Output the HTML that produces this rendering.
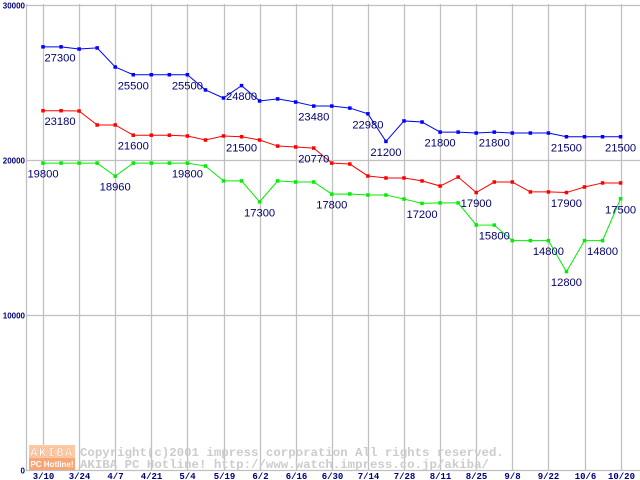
<!DOCTYPE html>
<html><head><meta charset="utf-8"><style>
body{margin:0;background:#fff}
svg{display:block}
</style></head><body>
<svg id="chart" width="640" height="480" xmlns="http://www.w3.org/2000/svg" font-family="Liberation Sans, sans-serif">
<g id="grid"></g>
<g id="wm">
  <rect x="29" y="445" width="46" height="13" fill="#fcc9a4"/>
  <rect x="29" y="458" width="46" height="12" fill="#f9a676"/>
  <text x="52" y="456" text-anchor="middle" font-family="Liberation Mono, monospace" font-weight="bold" font-size="12" fill="#fff" letter-spacing="1.5" stroke="#f7a070" stroke-width="0.4">AKIBA</text>
  <text x="52" y="467" text-anchor="middle" font-family="Liberation Sans, sans-serif" font-weight="bold" font-size="8" fill="#fff">PC Hotline!</text>
  <text x="80" y="456" font-family="Liberation Mono, monospace" font-weight="bold" font-size="12.4" fill="#cccccc">Copyright(c)2001 impress corporation All rights reserved.</text>
  <text x="80" y="468" font-family="Liberation Mono, monospace" font-weight="bold" font-size="12.4" fill="#cccccc">AKIBA PC Hotline!  http://www.watch.impress.co.jp/akiba/</text>
</g>
<g id="axes"></g>
<g id="series"></g>
<g id="labels"></g>
</svg>
<script>
const xTickLabels = ["3/10","3/24","4/7","4/21","5/4","5/19","6/2","6/16","6/30","7/14","7/28","8/11","8/25","9/8","9/22","10/6","10/20"];
const yTickValues = [0,10000,20000,30000];
const seriesColors = ["#0000ff","#ff0000","#00ee00"];
const blueValues = [27300,27300,27160,27230,26000,25500,25500,25500,25500,24520,24000,24800,23810,23940,23740,23480,23480,23350,22980,21200,22520,22450,21800,21800,21740,21800,21740,21740,21740,21500,21500,21500,21500];
const redValues = [23180,23180,23160,22260,22260,21600,21600,21600,21550,21290,21550,21500,21290,20900,20840,20770,19800,19740,18970,18840,18840,18650,18320,18900,17900,18580,18580,17940,17940,17900,18260,18520,18520];
const greenValues = [19800,19800,19800,19800,18960,19800,19800,19800,19800,19610,18650,18650,17300,18650,18580,18580,17800,17810,17740,17740,17480,17200,17230,17230,15810,15800,14800,14800,14800,12800,14800,14800,17500];
// [series, pointIndex, dx]
const labelPoints = [[0,0,17],[0,5,0],[0,8,0],[0,11,0],[0,15,0],[0,18,0],[0,19,0],[0,22,0],[0,25,0],[0,29,0],[0,32,0],
 [1,0,17],[1,5,0],[1,11,0],[1,15,0],[1,24,0],[1,29,0],
 [2,0,0],[2,4,0],[2,8,0],[2,12,0],[2,16,0],[2,21,0],[2,25,0],[2,28,0],[2,29,0],[2,31,0],[2,32,0]];

const NS="http://www.w3.org/2000/svg";
const X0=43, STEP=18.05, Y0=470, YS=155/10000;
const xAt=i=>X0+STEP*i;
const yAt=v=>Y0-v*YS;
function mk(tag,attrs,parent){const e=document.createElementNS(NS,tag);for(const k in attrs)e.setAttribute(k,attrs[k]);parent.appendChild(e);return e;}
const grid=document.getElementById('grid'),axes=document.getElementById('axes'),ser=document.getElementById('series'),lab=document.getElementById('labels');
xTickLabels.forEach((t,k)=>{
  const x=Math.round(xAt(k*2))+0.5;
  const l=mk('line',{x1:x,y1:4,x2:x,y2:470,stroke:'#c0c0c0','stroke-width':1.3},grid);
  
  
  const tx=mk('text',{x:x,y:479,'text-anchor':'middle','font-size':9,'font-family':'Liberation Mono, monospace','font-weight':'bold',fill:'#000080'},axes);
  tx.textContent=t;
  
  
});
yTickValues.forEach(v=>{
  const y=Math.round(yAt(v))+0.5;
  const l=mk('line',{x1:26,y1:y,x2:640,y2:y,stroke:'#c0c0c0','stroke-width':1.3},grid);
  
  
  const tx=mk('text',{x:25,y:y+3,'text-anchor':'end','font-size':8,'font-weight':'bold',fill:'#000080'},axes);
  tx.textContent=String(v);
  
  
});
const ax=mk('line',{x1:26.5,y1:4,x2:26.5,y2:471,stroke:'#c0c0c0','stroke-width':1.3},axes);


const all=[blueValues,redValues,greenValues];
const names=['blue-series','red-series','green-series'];
all.forEach((vals,s)=>{
  const g=mk('g',{},ser);
  
  
  const p=mk('polyline',{points:vals.map((v,i)=>xAt(i)+','+yAt(v)).join(' '),fill:'none',stroke:seriesColors[s],'stroke-width':1},g);
  
  
  vals.forEach((v,i)=>{
    const r=mk('rect',{x:xAt(i)-1.75,y:yAt(v)-1.75,width:3.5,height:3.5,fill:seriesColors[s]},g);
    
    
  });
});
labelPoints.forEach(([s,i,dx])=>{
  const v=all[s][i];
  const t=mk('text',{x:xAt(i)+dx,y:yAt(v)+14.5,'text-anchor':'middle','font-size':11.2,fill:'#000070'},lab);
  t.textContent=String(v);
  
  
});
</script>
</body></html>
